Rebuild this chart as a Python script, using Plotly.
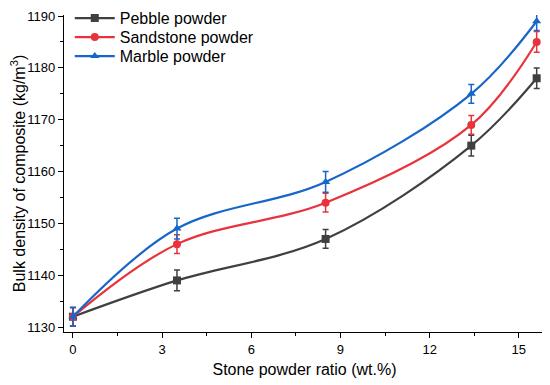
import plotly.graph_objects as go

x_ratio = [0, 3.5, 8.5, 13.4, 15.6]
pebble = [1132, 1139, 1147, 1165, 1178]
pebble_err = [1.8, 2.0, 1.8, 2.0, 2.0]
sandstone = [1132, 1146, 1154, 1169, 1185]
sandstone_err = [1.8, 1.8, 1.8, 1.8, 2.0]
marble = [1132, 1149, 1158, 1175, 1189]
marble_err = [1.8, 2.0, 2.0, 1.8, 1.8]

series = [
    ("Pebble powder", pebble, pebble_err, "#404040", "square", "legend", 0.99),
    ("Sandstone powder", sandstone, sandstone_err, "#e8333c", "circle", "legend2", 0.93),
    ("Marble powder", marble, marble_err, "#1766c9", "triangle-up", "legend3", 0.87),
]

fig = go.Figure()
legend_layout = {}
for name, y, err, color, sym, leg, ly in series:
    fig.add_trace(go.Scatter(
        x=x_ratio, y=y, name=name, mode="lines+markers", legend=leg,
        line=dict(color=color, width=2.2, shape="spline", smoothing=1.0),
        marker=dict(symbol=sym, size=8, color=color),
        error_y=dict(type="data", array=err, visible=True, color=color, thickness=1.5, width=3),
    ))
    legend_layout[leg] = dict(x=0.012, y=ly, xanchor="left", yanchor="middle",
                              bgcolor="rgba(0,0,0,0)", font=dict(size=16), itemwidth=40)

font = "Liberation Sans, Arial, sans-serif"
fig.update_layout(
    width=542, height=377,
    margin=dict(l=56, r=5, t=7, b=53, autoexpand=False),
    paper_bgcolor="white", plot_bgcolor="white",
    font=dict(family=font, color="black", size=13),
    showlegend=True,
    **legend_layout,
    xaxis=dict(
        range=[-0.3, 15.88], tickvals=[0, 3, 6, 9, 12, 15], automargin=False,
        ticklabeloverflow="allow",
        showline=True, linecolor="black", linewidth=1.3, showgrid=False, zeroline=False,
        ticks="outside", ticklen=5, tickwidth=1.3, tickcolor="black",
        minor=dict(tickvals=[1.5, 4.5, 7.5, 10.5, 13.5], ticks="outside", ticklen=3, tickwidth=1.2, tickcolor="black"),
        tickfont=dict(size=13),
        title=dict(text="Stone powder ratio (wt.%)", font=dict(size=16), standoff=8),
    ),
    yaxis=dict(
        range=[1129.05, 1190.2], tickvals=[1130, 1140, 1150, 1160, 1170, 1180, 1190], automargin=False,
        ticklabeloverflow="allow",
        showline=True, linecolor="black", linewidth=1.3, showgrid=False, zeroline=False,
        ticks="outside", ticklen=5, tickwidth=1.3, tickcolor="black",
        minor=dict(tickvals=[1135, 1145, 1155, 1165, 1175, 1185], ticks="outside", ticklen=3, tickwidth=1.2, tickcolor="black"),
        tickfont=dict(size=13),
        title=dict(text="Bulk density of composite (kg/m<sup>3</sup>)", font=dict(size=16), standoff=0),
    ),
)
fig.write_html("out.html")
